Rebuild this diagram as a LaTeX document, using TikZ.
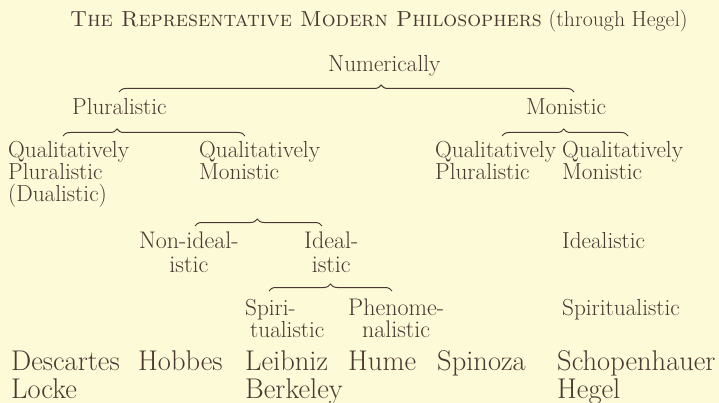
\documentclass[tikz,border=0pt]{standalone}
\usepackage{fontspec}
\usetikzlibrary{decorations.pathreplacing}
\definecolor{ink}{HTML}{4A3833}
\definecolor{paper}{HTML}{FCFAD7}

\begin{document}
\begin{tikzpicture}[x=1pt, y=-1pt,
  lbl/.style={anchor=base west, inner sep=0pt, align=left, text=ink,
    font=\fontsize{23.2}{22}\selectfont},
  split/.style={lbl, align=center, font=\fontsize{24}{24}\selectfont},
  philo/.style={lbl, font=\fontsize{28.5}{28}\selectfont},
  brc/.style={decorate, decoration={brace, amplitude=7pt, aspect=#1},
    draw=ink, line width=1pt}]
  \fill[paper] (0,0) rectangle (719,403);
  \useasboundingbox (0,0) rectangle (719,403);

  % heading
  \node[lbl, font=\fontsize{21.8}{22}\selectfont] (title) at (70,27)
    {\textsc{The Representative Modern Philosophers} (through Hegel)};

  % numerically
  \node[lbl] (num) at (328,72) {Numerically};
  \node[lbl] (plur) at (72,115) {Pluralistic};
  \node[lbl] (mon) at (526,115) {Monistic};

  % qualitatively (anchored on the last line)
  \node[lbl] (qplur) at (8,202) {Qualitatively\\Pluralistic\\(Dualistic)};
  \node[lbl] (qmon) at (199,180) {Qualitatively\\Monistic};
  \node[lbl] (mqplur) at (435,180) {Qualitatively\\Pluralistic};
  \node[lbl] (mqmon) at (562,180) {Qualitatively\\Monistic};

  \node[split] (nonideal) at (139,272) {Non-ideal-\\istic};
  \node[split] (ideal) at (304,272) {Ideal-\\istic};
  \node[lbl] (idealistic) at (562,248) {Idealistic};

  \node[lbl] (spiri) at (245,337) {Spiri-\\\hspace*{5pt}tualistic};
  \node[split, font=\fontsize{24}{22}\selectfont] (phenom) at (348,337)
    {Phenome-\\nalistic};
  \node[lbl] (spiritual) at (562,315) {Spiritualistic};

  % the philosophers
  \node[philo] (descartes) at (11,398) {Descartes\\Locke};
  \node[philo] (hobbes) at (138,370) {Hobbes};
  \node[philo] (leibniz) at (245,398) {Leibniz\\Berkeley};
  \node[philo] (hume) at (348,370) {Hume};
  \node[philo] (spinoza) at (437,370) {Spinoza};
  \node[philo] (schopen) at (557,398) {Schopenhauer\\Hegel};

  % braces
  \coordinate (numL) at (119,92);  \coordinate (numR) at (574,92);
  \coordinate (plurL) at (63,136); \coordinate (plurR) at (245,136);
  \coordinate (monL) at (502,136); \coordinate (monR) at (628,136);
  \coordinate (qmonL) at (195,226); \coordinate (qmonR) at (322,226);
  \coordinate (idL) at (269,291);  \coordinate (idR) at (392,291);
  \draw[brc=0.576] (numL) -- (numR);
  \draw[brc=0.297] (plurL) -- (plurR);
  \draw[brc=0.49] (monL) -- (monR);
  \draw[brc=0.49] (qmonL) -- (qmonR);
  \draw[brc=0.5] (idL) -- (idR);
\end{tikzpicture}
\end{document}
